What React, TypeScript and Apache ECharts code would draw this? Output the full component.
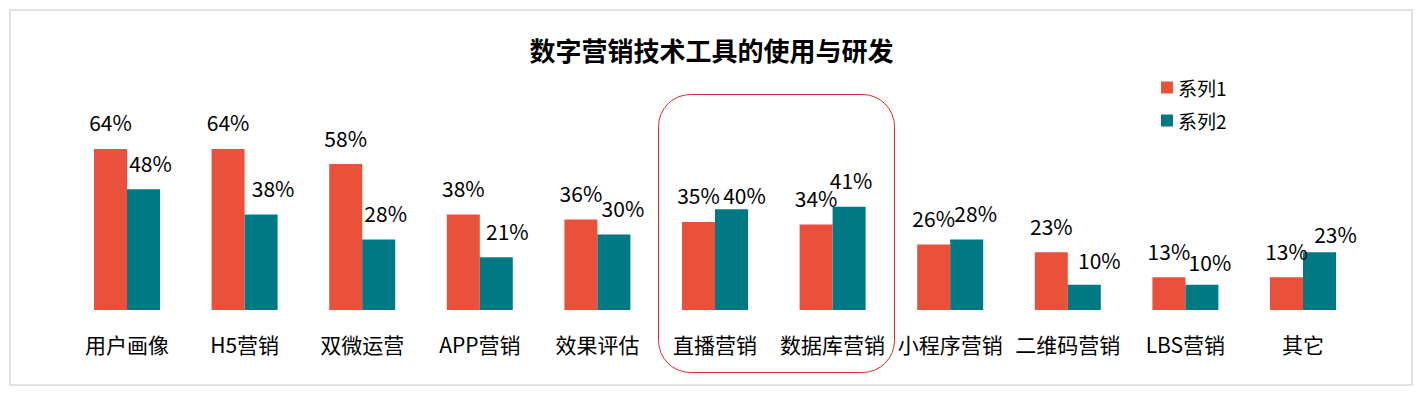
import React, { useEffect, useRef } from "react";
import * as echarts from "echarts";

const categories = ["用户画像", "H5营销", "双微运营", "APP营销", "效果评估", "直播营销", "数据库营销", "小程序营销", "二维码营销", "LBS营销", "其它"];
const series1 = [64, 64, 58, 38, 36, 35, 34, 26, 23, 13, 13];
const series2 = [48, 38, 28, 21, 30, 40, 41, 28, 10, 10, 23];
const seriesNames = ["系列1", "系列2"];
const titleText = "数字营销技术工具的使用与研发";

// label nudges (styling only)
const series2LabelDx = [7, 12, 7, 11, 9, 13, 2, 9, 15, 8, 16];
const series2LabelDy = [0, 0, 0, 0, 0, 12, 0, 0, 2, 4, 8];

const RED = "#E9513B";
const TEAL = "#017985";
const FONT = "'Noto Sans CJK SC', 'Noto Sans', sans-serif";

export default function App() {
  const ref = useRef<HTMLDivElement>(null);
  useEffect(() => {
    if (!ref.current) return;
    const chart = echarts.init(ref.current, null, { renderer: "svg" });
    const labelBase = {
      show: true,
      position: "top",
      distance: 16,
      color: "#000",
      fontSize: 21,
      fontFamily: FONT,
      formatter: "{c}%",
    };
    chart.setOption({
      animation: false,
      backgroundColor: "#fff",
      textStyle: { fontFamily: FONT },
      title: {
        text: titleText,
        left: "center",
        top: 31,
        textStyle: { fontSize: 26, fontWeight: "bold", color: "#000", fontFamily: FONT },
      },
      legend: {
        orient: "vertical",
        left: 1156,
        top: 73,
        itemWidth: 12,
        itemHeight: 12,
        itemGap: 14,
        icon: "rect",
        textStyle: { fontSize: 19, color: "#000", fontFamily: FONT },
        data: seriesNames,
      },
      grid: { left: 68.2, width: 1293.6, top: 58.4, height: 251.6, containLabel: false },
      xAxis: {
        type: "category",
        data: categories,
        axisLine: { show: false },
        axisTick: { show: false },
        axisLabel: { color: "#000", fontSize: 21, margin: 23, fontFamily: FONT, interval: 0 },
      },
      yAxis: { type: "value", min: 0, max: 100, show: false, splitLine: { show: false } },
      graphic: [
        {
          type: "rect",
          shape: { x: 10, y: 10, width: 1402, height: 375 },
          style: { fill: "none", stroke: "#D9D9D9", lineWidth: 1.5 },
          z: 100,
        },
        {
          type: "rect",
          shape: { x: 658.5, y: 94.5, width: 236, height: 278, r: 32 },
          style: { fill: "none", stroke: "#D52B2F", lineWidth: 1 },
          z: 100,
        },
      ],
      series: [
        {
          name: seriesNames[0],
          type: "bar",
          barWidth: 33,
          barGap: "0%",
          itemStyle: { color: RED },
          label: labelBase,
          data: series1,
        },
        {
          name: seriesNames[1],
          type: "bar",
          barWidth: 33,
          barGap: "0%",
          itemStyle: { color: TEAL },
          label: labelBase,
          data: series2.map((v, i) => ({
            value: v,
            label: { offset: [series2LabelDx[i], series2LabelDy[i]] },
          })),
        },
      ],
    });
    return () => chart.dispose();
  }, []);
  return (
    <div
      ref={ref}
      style={{ position: "absolute", left: 0, top: 0, width: 1423, height: 396 }}
    />
  );
}
